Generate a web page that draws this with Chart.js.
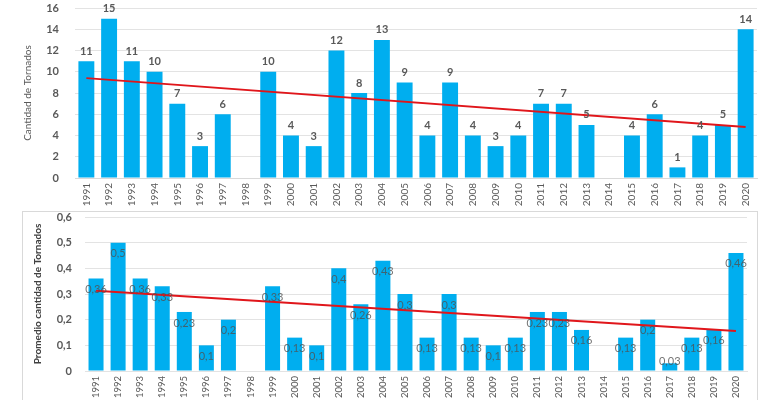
<!DOCTYPE html>
<html>
<head>
<meta charset="utf-8">
<script src="https://cdn.jsdelivr.net/npm/chart.js@4.4.1/dist/chart.umd.min.js"></script>
<style>
html,body{margin:0;padding:0;background:#fff;width:779px;height:400px;overflow:hidden}
#c-top{position:absolute;left:0;top:0}
#c-bot{position:absolute;left:22px;top:211px}
#frame{position:absolute;left:22px;top:211px;width:736px;height:200px;border:1px solid #d9d9d9;box-sizing:border-box;pointer-events:none}
</style>
</head>
<body>
<canvas id="c-top" width="779" height="212" style="width:779px;height:212px"></canvas>
<div id="frame"></div>
<canvas id="c-bot" width="737" height="189" style="width:737px;height:189px"></canvas>
<script>
/* ── data ── */
const years=['1991','1992','1993','1994','1995','1996','1997','1998','1999','2000',
  '2001','2002','2003','2004','2005','2006','2007','2008','2009','2010',
  '2011','2012','2013','2014','2015','2016','2017','2018','2019','2020'];
const tornadoCount=[11,15,11,10,7,3,6,null,10,4,3,12,8,13,9,4,9,4,3,4,7,7,5,null,4,6,1,4,5,14];
const tornadoAvg=[0.36,0.5,0.36,0.33,0.23,0.1,0.2,null,0.33,0.13,0.1,0.4,0.26,0.43,0.3,0.13,0.3,0.13,0.1,0.13,0.23,0.23,0.16,null,0.13,0.2,0.03,0.13,0.16,0.46];
const trendCount=[9.4,4.8];   // trend line at 1991 and 2020
const trendAvg=[0.313,0.156];

const BAR='#00AEEF',TREND='#E0161B',GRID='#e3e3e3',TXT='#595959';
const FONT='Lato';

/* value labels above/inside the bars */
const valueLabels={
  id:'valueLabels',
  afterDatasetsDraw(chart,args,opts){
    const c=chart.ctx;
    const meta=chart.getDatasetMeta(0);
    const vals=chart.data.datasets[0].data;
    const base=chart.scales.y.getPixelForValue(0);
    c.save();
    c.font=opts.font;c.fillStyle=opts.color;
    c.textAlign='center';c.textBaseline='middle';
    meta.data.forEach((bar,i)=>{
      const v=vals[i];
      if(v==null)return;
      const y=opts.inside?Math.min(bar.y+opts.offset,base-10):bar.y-opts.offset;
      const t=opts.comma?String(v).replace('.',','):String(v);
      c.fillText(t,bar.x,y);
    });
    c.restore();
  }
};

function trendData(ends){
  return [{x:years[0],y:ends[0]},{x:years[years.length-1],y:ends[1]}];
}
// keep tick padding from pushing the plot area in
function fixY(w){
  return s=>{s.width=w;s.paddingTop=0;s.paddingBottom=0;};
}
function fixX(h){
  return s=>{s.height=h;s.paddingLeft=0;s.paddingRight=0;};
}

/* ── chart 1: cantidad ── */
new Chart(document.getElementById('c-top'),{
  type:'bar',
  data:{
    labels:years,
    datasets:[
      {data:tornadoCount,backgroundColor:BAR,borderWidth:0,categoryPercentage:1,barPercentage:0.7,order:1},
      {type:'line',data:trendData(trendCount),borderColor:TREND,borderWidth:2,pointRadius:0,fill:false,order:0}
    ]
  },
  plugins:[valueLabels],
  options:{
    responsive:false,animation:false,
    layout:{padding:{left:22,right:22,top:8,bottom:0}},
    plugins:{legend:{display:false},tooltip:{enabled:false},
      valueLabels:{font:'bold 11px '+FONT,color:TXT,offset:10,inside:false,comma:false}},
    scales:{
      x:{grid:{display:false,drawTicks:false},border:{color:'#d9d9d9'},
        ticks:{color:TXT,font:{family:FONT,size:10},maxRotation:90,minRotation:90,autoSkip:false,padding:5},
        afterFit:fixX(34)},
      y:{min:0,max:16,grid:{color:GRID,drawTicks:false},border:{display:false},
        ticks:{stepSize:2,color:TXT,font:{family:FONT,size:11,weight:'bold'},padding:16},
        title:{display:true,text:'Cantidad de Tornados',color:TXT,font:{family:FONT,size:10},padding:0},
        afterFit:fixY(53)}
    }
  }
});

/* ── chart 2: promedio ── */
new Chart(document.getElementById('c-bot'),{
  type:'bar',
  data:{
    labels:years,
    datasets:[
      {data:tornadoAvg,backgroundColor:BAR,borderWidth:0,categoryPercentage:1,barPercentage:0.68,order:1},
      {type:'line',data:trendData(trendAvg),borderColor:TREND,borderWidth:2,pointRadius:0,fill:false,order:0}
    ]
  },
  plugins:[valueLabels],
  options:{
    responsive:false,animation:false,
    layout:{padding:{left:10,right:12,top:6,bottom:0}},
    plugins:{legend:{display:false},tooltip:{enabled:false},
      valueLabels:{font:'11px '+FONT,color:'rgba(80,80,80,0.8)',offset:11,inside:true,comma:true}},
    scales:{
      x:{grid:{display:false,drawTicks:false},border:{color:'#e3e3e3'},
        ticks:{color:TXT,font:{family:FONT,size:9.5},maxRotation:90,minRotation:90,autoSkip:false,padding:5},
        afterFit:fixX(29)},
      y:{min:0,max:0.6,grid:{color:GRID,drawTicks:false},border:{display:false},
        ticks:{stepSize:0.1,color:TXT,font:{family:FONT,size:11,weight:'bold'},padding:13,
          callback:v=>v===0?'0':v.toFixed(1).replace('.',',')},
        title:{display:true,text:'Promedio cantidad de Tornados',color:'#404040',font:{family:FONT,size:10,weight:'bold'},padding:0},
        afterFit:fixY(53)}
    }
  }
});
</script>
</body>
</html>
